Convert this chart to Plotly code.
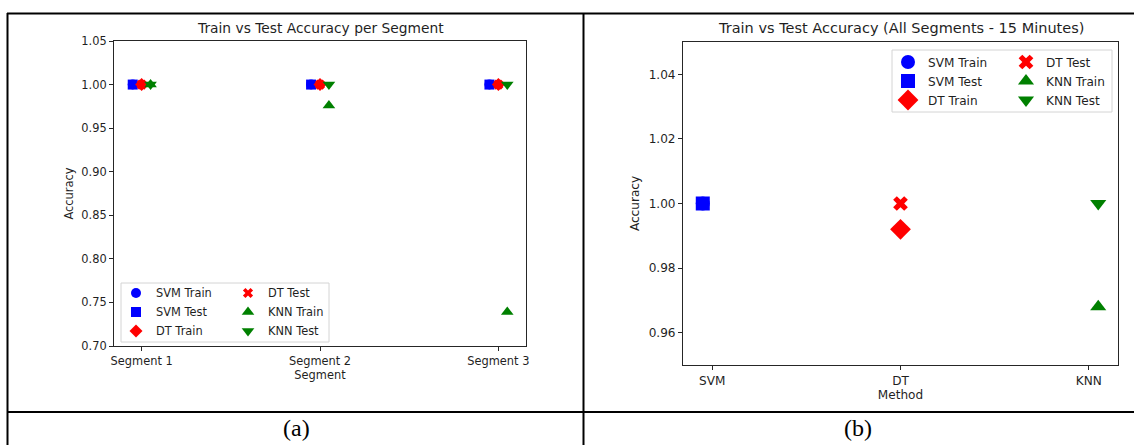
import plotly.graph_objects as go

# ---- data -------------------------------------------------------------
segments = ["Segment 1", "Segment 2", "Segment 3"]
seg_svm_train = [1.0, 1.0, 1.0]
seg_svm_test = [1.0, 1.0, 1.0]
seg_dt_train = [1.0, 1.0, 1.0]
seg_dt_test = [1.0, 1.0, 1.0]
seg_knn_train = [1.0, 0.976, 0.739]
seg_knn_test = [1.0, 1.0, 1.0]

methods = ["SVM", "DT", "KNN"]
all_train = [1.0, 0.992, 0.968]
all_test = [1.0, 1.0, 1.0]

seg_ticks = [0.70, 0.75, 0.80, 0.85, 0.90, 0.95, 1.00, 1.05]
all_ticks = [0.96, 0.98, 1.00, 1.02, 1.04]

# ---- styling ----------------------------------------------------------
W, H = 1134, 445
FONT = "DejaVu Sans"
TXT = "#1f1f1f"
BLUE, RED, GREEN = "#0000ff", "#ff0000", "#008000"
offsets = {"SVM": -0.05, "DT": 0.0, "KNN": 0.05}
FS_A = 11.4   # text size, panel (a)
FS_B = 12.1   # text size, panel (b)


def px(x):
    return x / W


def py(y):
    return 1 - y / H


fig = go.Figure()

# ---- panel (a): per-segment accuracy ---------------------------------
seg_idx = list(range(len(segments)))
seg_series = [
    ("SVM Train", "SVM", seg_svm_train, "circle", BLUE, 10, "legend"),
    ("SVM Test", "SVM", seg_svm_test, "square", BLUE, 10, "legend"),
    ("DT Train", "DT", seg_dt_train, "diamond", RED, 10, "legend"),
    ("DT Test", "DT", seg_dt_test, "x", RED, 9, "legend2"),
    ("KNN Train", "KNN", seg_knn_train, "triangle-up", GREEN, 11, "legend2"),
    ("KNN Test", "KNN", seg_knn_test, "triangle-down", GREEN, 11, "legend2"),
]
for name, model, vals, sym, col, size, leg in seg_series:
    fig.add_trace(go.Scatter(
        x=[i + offsets[model] for i in seg_idx], y=vals, mode="markers",
        name=name, legend=leg, xaxis="x", yaxis="y",
        marker=dict(symbol=sym, color=col, size=size, line=dict(width=0)),
    ))

# ---- panel (b): all segments, 15 minutes -----------------------------
m_idx = list(range(len(methods)))
all_series = [
    ("SVM Train", 0, all_train, "circle", BLUE, 14, "legend3"),
    ("SVM Test", 0, all_test, "square", BLUE, 14, "legend3"),
    ("DT Train", 1, all_train, "diamond", RED, 16, "legend3"),
    ("DT Test", 1, all_test, "x", RED, 13, "legend4"),
    ("KNN Train", 2, all_train, "triangle-up", GREEN, 14, "legend4"),
    ("KNN Test", 2, all_test, "triangle-down", GREEN, 14, "legend4"),
]
for name, k, vals, sym, col, size, leg in all_series:
    fig.add_trace(go.Scatter(
        x=[m_idx[k] + offsets[methods[k]]], y=[vals[k]], mode="markers",
        name=name, legend=leg, xaxis="x2", yaxis="y2",
        marker=dict(symbol=sym, color=col, size=size, line=dict(width=0)),
    ))


def axis_style(fs):
    return dict(
        showline=True, mirror=True, linecolor="#262626", linewidth=1,
        ticks="outside", ticklen=4, tickcolor="#262626", tickwidth=1,
        showgrid=False, zeroline=False, automargin=False,
        tickfont=dict(family=FONT, size=fs, color=TXT),
    )


def legend_style(fs):
    return dict(
        bgcolor="rgba(0,0,0,0)", borderwidth=0,
        font=dict(family=FONT, size=fs, color=TXT),
        xanchor="left", yanchor="top", tracegroupgap=0,
    )


tf_a = dict(family=FONT, size=FS_A, color=TXT)
tf_b = dict(family=FONT, size=FS_B, color=TXT)

fig.update_layout(
    width=W, height=H,
    margin=dict(l=0, r=0, t=0, b=0, pad=0, autoexpand=False),
    paper_bgcolor="white", plot_bgcolor="white",
    xaxis=dict(axis_style(FS_A), domain=[px(114), px(526)], range=[-0.155, 2.155],
               tickvals=seg_idx, ticktext=segments, anchor="y",
               title=dict(text="Segment", font=tf_a, standoff=4)),
    yaxis=dict(axis_style(FS_A), domain=[py(346), py(41)], range=[0.70, 1.05],
               tickvals=seg_ticks, tickformat=".2f", anchor="x",
               title=dict(text="Accuracy", font=tf_a, standoff=5)),
    xaxis2=dict(axis_style(FS_B), domain=[px(683), px(1118)], range=[-0.155, 2.155],
                tickvals=m_idx, ticktext=methods, anchor="y2",
                title=dict(text="Method", font=tf_b, standoff=4)),
    yaxis2=dict(axis_style(FS_B), domain=[py(365), py(42)], range=[0.95, 1.05],
                tickvals=all_ticks, tickformat=".2f", anchor="x2",
                title=dict(text="Accuracy", font=tf_b, standoff=6)),
    legend=dict(legend_style(FS_A), x=px(116), y=py(278.5)),
    legend2=dict(legend_style(FS_A), x=px(228), y=py(278.5)),
    legend3=dict(legend_style(FS_B), x=px(888), y=py(47.5)),
    legend4=dict(legend_style(FS_B), x=px(1006), y=py(47.5)),
)

# legend frames
frames = [(121, 283, 329, 342), (892, 50, 1112, 112)]
for x0, y0, x1, y1 in frames:
    fig.add_shape(type="rect", xref="paper", yref="paper",
                  x0=px(x0), x1=px(x1), y0=py(y1), y1=py(y0),
                  line=dict(color="#d4d4d4", width=1),
                  fillcolor="rgba(255,255,255,0.8)", layer="above")

# panel titles
titles = [("Train vs Test Accuracy per Segment", 320, 13.8),
          ("Train vs Test Accuracy (All Segments - 15 Minutes)", 900.5, 14.5)]
for text, cx, fs in titles:
    fig.add_annotation(text=text, x=px(cx), y=py(28), xref="paper", yref="paper",
                       showarrow=False, xanchor="center", yanchor="middle",
                       font=dict(family=FONT, size=fs, color=TXT))

# surrounding table rules
rules = [
    (7, 13.5, W, 13.5),
    (7.5, 13, 7.5, H),
    (583.5, 13, 583.5, H),
    (7, 412, W, 412),
]
for x0, y0, x1, y1 in rules:
    fig.add_shape(type="line", xref="paper", yref="paper",
                  x0=px(x0), x1=px(x1), y0=py(y0), y1=py(y1),
                  line=dict(color="black", width=2))

# sub-figure captions
for text, cx in [("(a)", 296), ("(b)", 858)]:
    fig.add_annotation(text=text, x=px(cx), y=py(428), xref="paper", yref="paper",
                       showarrow=False, xanchor="center", yanchor="middle",
                       borderpad=0,
                       font=dict(family="Liberation Serif", size=24, color="black"))

fig.write_html("out.html")
